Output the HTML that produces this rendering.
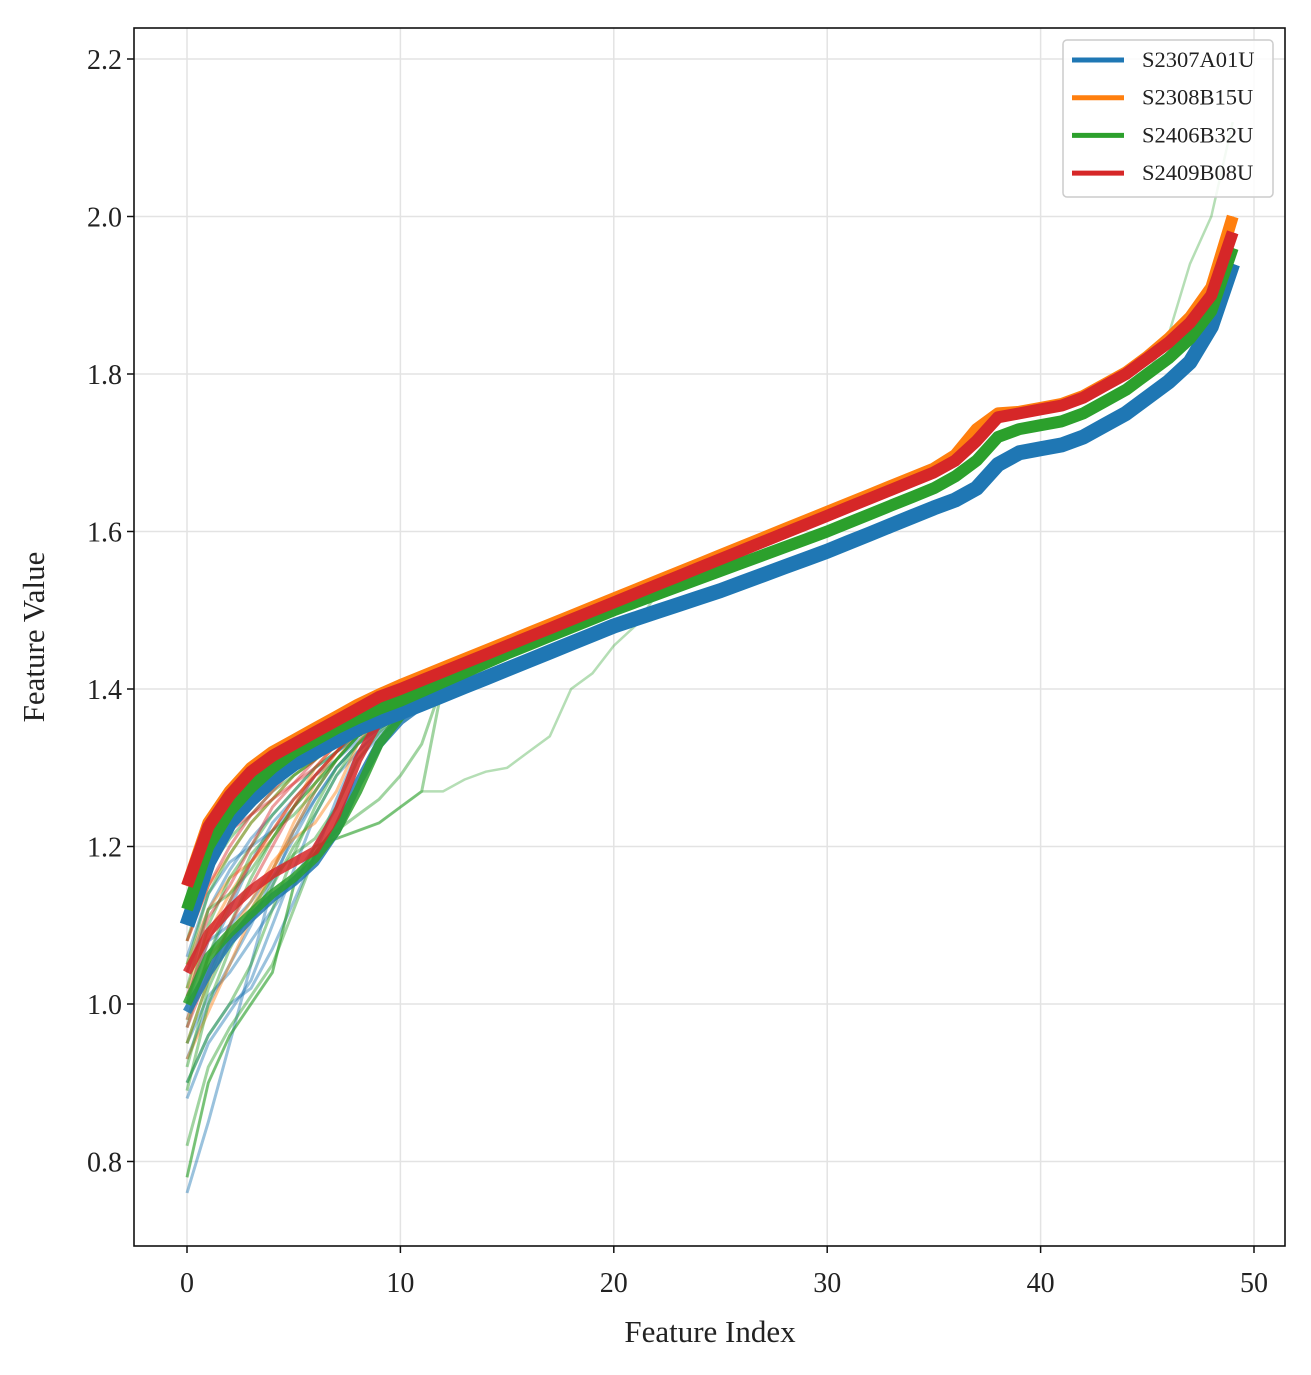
<!DOCTYPE html>
<html><head><meta charset="utf-8"><style>
body{margin:0;background:#fff}
svg text{font-family:"Liberation Serif",serif;fill:#222}
</style></head><body>
<svg id="chart" width="1311" height="1370" viewBox="0 0 1311 1370" xmlns="http://www.w3.org/2000/svg">
<rect width="1311" height="1370" fill="#fff"/>
<g id="grid"></g>
<g id="lines"></g>
<rect x="134" y="28" width="1151" height="1218" fill="none" stroke="#111" stroke-width="1.6"/>
<g id="ticks"></g>
<text x="710" y="1342" font-size="31" text-anchor="middle">Feature Index</text>
<text transform="translate(44,637) rotate(-90)" font-size="31" text-anchor="middle">Feature Value</text>
<g id="legend">
<rect x="1063" y="40" width="210" height="157" rx="4" fill="#fff" fill-opacity="0.85" stroke="#ccc" stroke-width="1.5"/>
</g>
</svg>
<script>
const xTicks=[0,10,20,30,40,50];
const yTicks=[0.8,1.0,1.2,1.4,1.6,1.8,2.0,2.2];
const seriesNames=["S2307A01U","S2308B15U","S2406B32U","S2409B08U"];
const seriesColors=["#1f77b4","#ff7f0e","#2ca02c","#d62728"];
const blueMain=[1.10,1.18,1.23,1.26,1.285,1.305,1.32,1.335,1.35,1.36,1.37,1.381,1.392,1.403,1.414,1.425,1.436,1.447,1.458,1.469,1.48,1.489,1.498,1.507,1.516,1.525,1.535,1.545,1.555,1.565,1.575,1.586,1.597,1.608,1.619,1.63,1.64,1.655,1.685,1.70,1.705,1.71,1.72,1.735,1.75,1.77,1.79,1.815,1.86,1.94];
const orangeMain=[1.15,1.23,1.27,1.30,1.32,1.335,1.35,1.365,1.38,1.393,1.405,1.416,1.427,1.438,1.449,1.46,1.471,1.482,1.493,1.504,1.515,1.526,1.537,1.548,1.559,1.57,1.581,1.592,1.603,1.614,1.625,1.636,1.647,1.658,1.669,1.68,1.697,1.73,1.75,1.752,1.757,1.762,1.772,1.787,1.802,1.822,1.845,1.872,1.91,2.0];
const greenMain=[1.12,1.20,1.245,1.275,1.30,1.32,1.335,1.35,1.363,1.375,1.385,1.397,1.409,1.421,1.433,1.445,1.456,1.467,1.478,1.489,1.50,1.51,1.52,1.53,1.54,1.55,1.56,1.57,1.58,1.59,1.60,1.611,1.622,1.633,1.644,1.655,1.67,1.69,1.72,1.73,1.735,1.74,1.75,1.765,1.78,1.80,1.82,1.845,1.88,1.96];
const redMain=[1.15,1.225,1.265,1.295,1.315,1.33,1.345,1.36,1.375,1.39,1.40,1.411,1.422,1.433,1.444,1.455,1.466,1.477,1.488,1.499,1.51,1.521,1.532,1.543,1.554,1.565,1.576,1.587,1.598,1.609,1.62,1.631,1.642,1.653,1.664,1.675,1.69,1.715,1.745,1.75,1.755,1.76,1.77,1.785,1.80,1.82,1.84,1.865,1.90,1.98];
const mains=[blueMain,orangeMain,greenMain,redMain];
// early thin runs (indices 0..11), then follow series main curve
const blueThin=[[0.76,0.85,0.95,1.05,1.15,1.22,1.27,1.31,1.34,1.355,1.365,1.38],[0.88,0.95,0.99,1.03,1.10,1.17,1.24,1.29,1.32,1.345,1.36,1.38],[0.98,1.06,1.12,1.18,1.23,1.26,1.29,1.31,1.335,1.35,1.365,1.38],[0.93,1.00,1.05,1.10,1.16,1.21,1.26,1.30,1.33,1.35,1.365,1.38],[1.04,1.12,1.17,1.21,1.24,1.27,1.30,1.32,1.34,1.355,1.37,1.381],[0.95,1.01,1.04,1.08,1.12,1.16,1.20,1.25,1.31,1.34,1.36,1.38],[1.00,1.08,1.10,1.13,1.17,1.22,1.26,1.30,1.33,1.35,1.365,1.38],[0.90,0.96,1.00,1.02,1.07,1.13,1.19,1.26,1.32,1.35,1.365,1.38],[1.06,1.14,1.18,1.20,1.22,1.25,1.29,1.32,1.34,1.355,1.37,1.381]];
const orangeThin=[[0.95,1.03,1.08,1.12,1.17,1.22,1.27,1.31,1.345,1.37,1.39,1.41],[1.02,1.09,1.14,1.18,1.22,1.26,1.29,1.32,1.35,1.375,1.395,1.414],[0.93,0.99,1.05,1.11,1.17,1.23,1.28,1.32,1.35,1.375,1.40,1.416],[1.08,1.15,1.19,1.23,1.26,1.29,1.31,1.335,1.36,1.38,1.40,1.416],[0.98,1.06,1.09,1.13,1.18,1.21,1.23,1.27,1.33,1.37,1.395,1.416],[1.05,1.12,1.16,1.18,1.21,1.25,1.30,1.33,1.355,1.378,1.40,1.416]];
const greenThin=[[0.78,0.90,0.96,1.00,1.04,1.15,1.20,1.21,1.22,1.23,1.25,1.27],[0.82,0.92,0.97,1.01,1.05,1.12,1.19,1.22,1.24,1.26,1.29,1.33],[0.89,1.00,1.07,1.12,1.16,1.19,1.21,1.25,1.31,1.345,1.37,1.39],[0.95,1.03,1.10,1.16,1.21,1.25,1.28,1.31,1.34,1.36,1.38,1.397],[1.00,1.10,1.16,1.20,1.24,1.27,1.30,1.32,1.345,1.365,1.38,1.397],[0.90,0.96,1.00,1.05,1.12,1.19,1.25,1.30,1.33,1.355,1.375,1.397],[1.05,1.14,1.19,1.23,1.26,1.29,1.31,1.335,1.355,1.37,1.385,1.397],[0.97,1.06,1.13,1.19,1.22,1.24,1.27,1.31,1.34,1.36,1.38,1.397],[1.08,1.17,1.21,1.24,1.27,1.29,1.31,1.33,1.35,1.37,1.385,1.397],[0.92,1.02,1.08,1.11,1.15,1.20,1.24,1.29,1.33,1.36,1.38,1.397],[1.02,1.12,1.14,1.17,1.21,1.25,1.28,1.31,1.34,1.36,1.38,1.397]];
const redThin=[[0.97,1.04,1.10,1.15,1.20,1.25,1.29,1.32,1.35,1.375,1.395,1.411],[1.08,1.15,1.20,1.24,1.27,1.30,1.32,1.345,1.365,1.385,1.40,1.411],[1.01,1.08,1.13,1.18,1.22,1.26,1.29,1.32,1.35,1.375,1.395,1.411],[1.10,1.18,1.22,1.24,1.26,1.28,1.31,1.34,1.36,1.38,1.40,1.411],[1.04,1.11,1.15,1.20,1.25,1.28,1.30,1.33,1.36,1.38,1.40,1.411]];
const thins=[blueThin,orangeThin,greenThin,redThin];
const blueLower=[0.99,1.04,1.08,1.11,1.135,1.155,1.18,1.22,1.28,1.33,1.36,1.38];
const greenLower=[1.00,1.06,1.09,1.115,1.14,1.16,1.185,1.22,1.27,1.33,1.365,1.39];
const redLower=[1.04,1.09,1.12,1.145,1.165,1.18,1.195,1.24,1.31,1.36,1.39,1.411];
const greenOutlierTail=[1.27,1.285,1.295,1.30,1.32,1.34,1.40,1.42,1.455,1.48];
const greenOutlierEnd=[1.85,1.94,2.0,2.12];

const X0=134,X1=1285,Y0=28,Y1=1246;
const sx=v=>187+v*21.34;
const sy=v=>1004-(v-1.0)*787.5;
const NS="http://www.w3.org/2000/svg";
function mk(tag,attrs,parent){const e=document.createElementNS(NS,tag);for(const k in attrs)e.setAttribute(k,attrs[k]);parent.appendChild(e);return e;}
const grid=document.getElementById('grid'),ticks=document.getElementById('ticks'),lines=document.getElementById('lines'),legend=document.getElementById('legend');
xTicks.forEach(t=>{
  const g=mk('line',{x1:sx(t),x2:sx(t),y1:Y0,y2:Y1,stroke:'#e3e3e3','stroke-width':1.5},grid);
  
  
  const tk=mk('line',{x1:sx(t),x2:sx(t),y1:Y1,y2:Y1+7,stroke:'#111','stroke-width':1.5},ticks);
  
  
  const tx=mk('text',{x:sx(t),y:1292,'font-size':28,'text-anchor':'middle'},ticks);tx.textContent=t;
  
  
});
yTicks.forEach(t=>{
  const g=mk('line',{x1:X0,x2:X1,y1:sy(t),y2:sy(t),stroke:'#e3e3e3','stroke-width':1.5},grid);
  
  
  const tk=mk('line',{x1:X0-7,x2:X0,y1:sy(t),y2:sy(t),stroke:'#111','stroke-width':1.5},ticks);
  
  
  const tx=mk('text',{x:X0-12,y:sy(t)+10,'font-size':28,'text-anchor':'end'},ticks);tx.textContent=t.toFixed(1);
  
  
});
function pathOf(vals,start){return vals.map((v,i)=>(i?'L':'M')+sx(i+start).toFixed(1)+','+sy(v).toFixed(1)).join('');}
thins.forEach((arr,s)=>{
  arr.forEach(a=>{
    const full=a.concat(mains[s].slice(a.length));
    const p=mk('path',{d:pathOf(full,0),fill:'none',stroke:seriesColors[s],'stroke-width':3,'stroke-opacity':0.45},lines);
    
    
  });
});
{
  const a=greenThin[0].concat(greenOutlierTail,greenMain.slice(22));
  const p=mk('path',{d:pathOf(a,0),fill:'none',stroke:seriesColors[2],'stroke-width':2.5,'stroke-opacity':0.35},lines);
  
  
  const b=greenMain.slice(0,46).concat(greenOutlierEnd);
  const q=mk('path',{d:pathOf(b,0),fill:'none',stroke:seriesColors[2],'stroke-width':2.5,'stroke-opacity':0.35},lines);
  
  
}
[[0,blueLower],[2,greenLower],[3,redLower]].forEach(([s,a])=>{
  const full=a.concat(mains[s].slice(a.length));
  const p=mk('path',{d:pathOf(full,0),fill:'none',stroke:seriesColors[s],'stroke-width':9,'stroke-opacity':0.85,'stroke-linejoin':'round'},lines);
  
  
});
mains.forEach((m,s)=>{
  const p=mk('path',{d:pathOf(m,0),fill:'none',stroke:seriesColors[s],'stroke-width':s===0?15:12,'stroke-linejoin':'round'},lines);
  
  
});
seriesNames.forEach((n,i)=>{
  const y=60+i*37.7;
  const l=mk('line',{x1:1072,x2:1124,y1:y,y2:y,stroke:seriesColors[i],'stroke-width':5},legend);
  
  
  const t=mk('text',{x:1142,y:y+7,'font-size':22.5},legend);t.textContent=n;
  
  
});
</script>
</body></html>
